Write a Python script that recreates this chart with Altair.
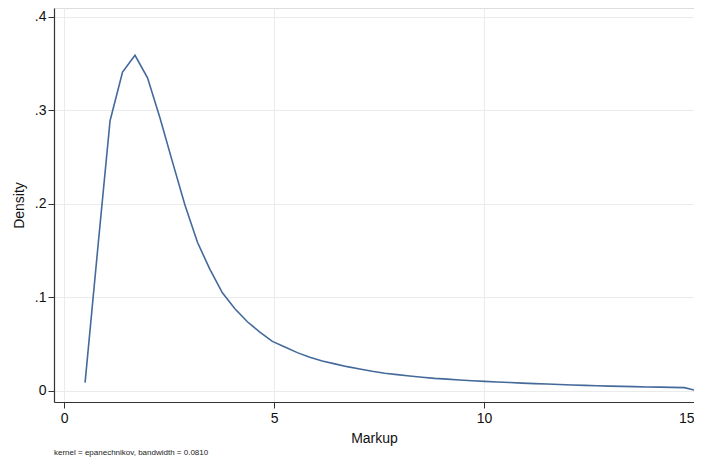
import altair as alt
import pandas as pd

markup = [0.500, 0.797, 1.095, 1.392, 1.689, 1.987, 2.284, 2.581, 2.878, 3.176,
          3.473, 3.770, 4.068, 4.365, 4.662, 4.960, 5.257, 5.554, 5.851, 6.149,
          6.446, 6.743, 7.041, 7.338, 7.635, 7.932, 8.230, 8.527, 8.824, 9.122,
          9.419, 9.716, 10.014, 10.311, 10.608, 10.905, 11.203, 11.500, 11.797, 12.095,
          12.392, 12.689, 12.986, 13.284, 13.581, 13.878, 14.176, 14.473, 14.770, 15.068]
density = [0.009, 0.150, 0.289, 0.341, 0.359, 0.335, 0.292, 0.245, 0.199, 0.159,
           0.130, 0.105, 0.088, 0.074, 0.063, 0.053, 0.047, 0.041, 0.036, 0.032,
           0.029, 0.026, 0.0235, 0.021, 0.019, 0.0175, 0.016, 0.0147, 0.0135, 0.0127,
           0.0118, 0.0110, 0.0103, 0.0096, 0.0090, 0.0084, 0.0079, 0.0074, 0.0069, 0.0064,
           0.0060, 0.0056, 0.0052, 0.0049, 0.0046, 0.0043, 0.0041, 0.0038, 0.0036, 0.0003]
x_ticks = [0, 5, 10, 15]
y_ticks = [0, 0.1, 0.2, 0.3, 0.4]
note = "kernel = epanechnikov, bandwidth = 0.0810"

df = pd.DataFrame({"Markup": markup, "Density": density})

FONT = "Liberation Sans, Arial, sans-serif"

chart = alt.Chart(df).mark_line(color="#44699b", strokeWidth=1.6, clip=True).encode(
    x=alt.X("Markup:Q",
            scale=alt.Scale(domain=[-0.24, 15.0], nice=False, zero=False),
            axis=alt.Axis(values=x_ticks, title="Markup", format="d",
                          grid=True, gridColor="#ebebeb", gridWidth=1,
                          domainColor="#333333", domainWidth=1.2,
                          tickColor="#333333", tickSize=6,
                          labelFontSize=14, labelColor="#111111", labelPadding=3,
                          labelAlign={"condition": {"test": "datum.value == 15", "value": "right"},
                                      "value": "center"},
                          labelFont=FONT, titleFont=FONT, titleFontSize=14,
                          titleFontWeight="normal", titleColor="#111111",
                          titlePadding=6, labelFlush=False)),
    y=alt.Y("Density:Q",
            scale=alt.Scale(domain=[-0.0118, 0.4096], nice=False, zero=False),
            axis=alt.Axis(values=y_ticks, title="Density",
                          labelExpr="datum.value == 0 ? '0' : replace(format(datum.value, '.1f'), '0.', '.')",
                          grid=True, gridColor="#ebebeb", gridWidth=1,
                          domainColor="#333333", domainWidth=1.2,
                          tickColor="#333333", tickSize=6,
                          labelFontSize=14, labelColor="#111111", labelPadding=2,
                          labelFont=FONT, titleFont=FONT, titleFontSize=14,
                          titleFontWeight="normal", titleColor="#111111",
                          titlePadding=8, labelFlush=False)),
).properties(
    width=640, height=394,
    title=alt.TitleParams(note, orient="bottom", anchor="start", frame="group",
                          fontSize=8, font=FONT, fontWeight="normal",
                          color="#222222", offset=4),
    autosize=alt.AutoSizeParams(type="none"),
    padding={"left": 46, "top": 0, "right": 0, "bottom": 55},
).configure_view(stroke=None).configure(background="white")

chart.save("out.html", embed_options={"renderer": "svg", "actions": False})
